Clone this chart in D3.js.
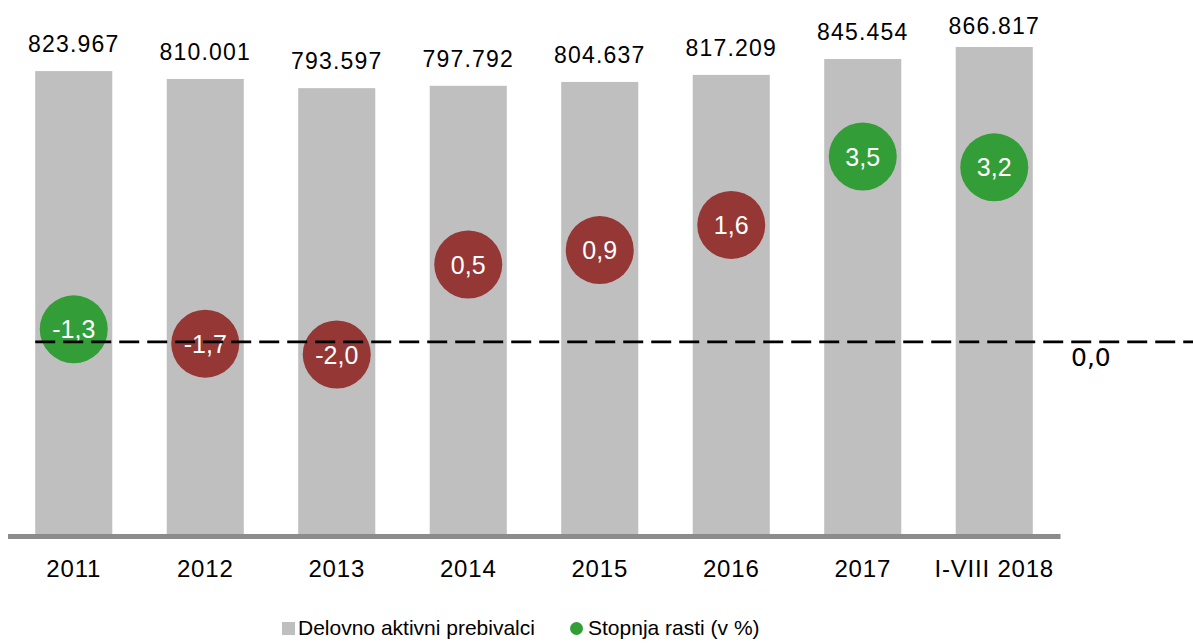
<!DOCTYPE html>
<html>
<head>
<meta charset="utf-8">
<script src="https://cdn.jsdelivr.net/npm/d3@7"></script>
<style>
  html, body { margin: 0; padding: 0; background: #fff; }
  svg { display: block; font-family: "Liberation Sans", Arial, sans-serif; }
</style>
</head>
<body>
<svg id="chart" width="1193" height="644"></svg>
<script>
// ---- data ----
const categories = ["2011", "2012", "2013", "2014", "2015", "2016", "2017", "I-VIII 2018"];
const workers = [823967, 810001, 793597, 797792, 804637, 817209, 845454, 866817];
const workerLabels = ["823.967", "810.001", "793.597", "797.792", "804.637", "817.209", "845.454", "866.817"];
const growth = [-1.3, -1.7, -2.0, 0.5, 0.9, 1.6, 3.5, 3.2];
const growthLabels = ["-1,3", "-1,7", "-2,0", "0,5", "0,9", "1,6", "3,5", "3,2"];
const growthColorKey = ["g", "r", "r", "r", "r", "r", "g", "g"];
const refLineValue = -1.65;   // position of dashed reference line on growth scale
const refLineLabel = "0,0";
const legendLabels = ["Delovno aktivni prebivalci", "Stopnja rasti (v %)"];

const colors = { bar: "#bfbfbf", g: "#339e38", r: "#953735", axis: "#8c8c8c" };

const svg = d3.select("#chart");

const x = d3.scaleBand().domain(categories).range([8, 1060])
  .paddingInner(0.414).paddingOuter(0.207);
const yBar = d3.scaleLinear().domain([0, 1000000]).range([534, -27.8]);
const yG = d3.scaleLinear().domain([-2.5, 4]).range([372.5, 138.5]);

const rows = categories.map((c, i) => ({
  c, w: workers[i], wl: workerLabels[i], g: growth[i], gl: growthLabels[i], k: growthColorKey[i]
}));

// bars
svg.append("g").selectAll("rect").data(rows).join("rect")
  .attr("x", d => x(d.c))
  .attr("y", d => yBar(d.w))
  .attr("width", x.bandwidth())
  .attr("height", d => yBar(0) - yBar(d.w))
  .attr("fill", colors.bar);

// bar value labels
svg.append("g").selectAll("text").data(rows).join("text")
  .attr("x", d => x(d.c) + x.bandwidth() / 2)
  .attr("y", d => Math.max(yBar(d.w) - 19, 34))
  .attr("text-anchor", "middle")
  .attr("font-size", 23)
  .attr("letter-spacing", 1.2)
  .attr("fill", "#000")
  .text(d => d.wl);

// x axis line
const xAxis = d3.axisBottom(x).tickSize(0).tickPadding(0);
const axG = svg.append("g").attr("transform", "translate(0,536.5)").call(xAxis);
axG.select(".domain").attr("stroke", colors.axis).attr("stroke-width", 5)
  .attr("d", "M8,0H1060.5");
axG.selectAll(".tick text")
  .attr("y", 40.5).attr("dy", 0)
  .attr("font-size", 24)
  .attr("letter-spacing", 0.8)
  .attr("font-family", "'Liberation Sans', Arial, sans-serif")
  .attr("fill", "#000");

// circles
svg.append("g").selectAll("circle").data(rows).join("circle")
  .attr("cx", d => x(d.c) + x.bandwidth() / 2)
  .attr("cy", d => yG(d.g))
  .attr("r", 34)
  .attr("fill", d => colors[d.k]);

svg.append("g").selectAll("text").data(rows).join("text")
  .attr("x", d => x(d.c) + x.bandwidth() / 2)
  .attr("y", d => yG(d.g))
  .attr("dy", "0.36em")
  .attr("text-anchor", "middle")
  .attr("font-size", 25)
  .attr("fill", "#fff")
  .text(d => d.gl);

// dashed reference line
svg.append("line")
  .attr("x1", x(categories[0])).attr("x2", 1193)
  .attr("y1", yG(refLineValue)).attr("y2", yG(refLineValue))
  .attr("stroke", "#000").attr("stroke-width", 2.6)
  .attr("stroke-dasharray", "20,8");

svg.append("text")
  .attr("x", 1071).attr("y", yG(refLineValue) + 24)
  .attr("font-size", 25)
  .attr("font-family", "'DejaVu Sans', sans-serif")
  .attr("fill", "#000")
  .text(refLineLabel);

// legend
const lg = svg.append("g");
lg.append("rect").attr("x", 282).attr("y", 622).attr("width", 13).attr("height", 13).attr("fill", colors.bar);
lg.append("text").attr("x", 298).attr("y", 635).attr("font-size", 21).attr("fill", "#000").text(legendLabels[0]);
lg.append("circle").attr("cx", 576.5).attr("cy", 628.5).attr("r", 6.5).attr("fill", colors.g);
lg.append("text").attr("x", 588).attr("y", 635).attr("font-size", 21).attr("fill", "#000").text(legendLabels[1]);
</script>
</body>
</html>
